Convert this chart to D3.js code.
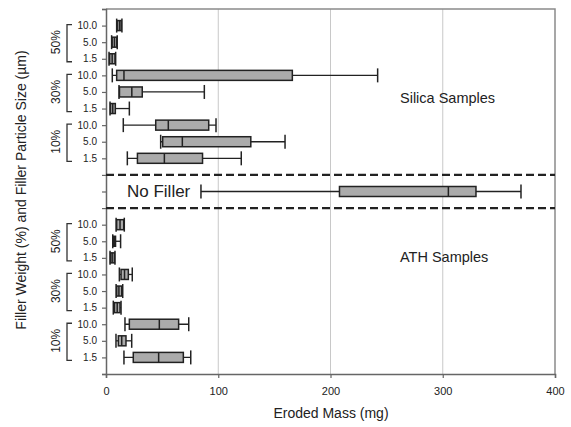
<!DOCTYPE html>
<html>
<head>
<meta charset="utf-8">
<script src="https://cdn.jsdelivr.net/npm/d3@7"></script>
<style>
  body { margin: 0; background: #fff; }
  text { font-family: Arial, "Liberation Sans", sans-serif; fill: #222; }
</style>
</head>
<body>
<svg id="chart" width="571" height="427"></svg>
<script>
// particle size labels, top to bottom inside each weight group
const sizes = ["10.0", "5.0", "1.5"];
const weights = ["50%", "30%", "10%"];
const xTicks = [0, 100, 200, 300, 400];

// [min, q1, median, q3, max] in mg, rows top to bottom
const silica = [
    [9.5, 10, 12, 13.5, 14.2],
    [5, 5.5, 7.5, 9.5, 10],
    [2.7, 3.2, 5.5, 8, 8.6],
    [5.6, 9.5, 16, 166, 242],
    [11.6, 12, 23, 32.3, 87.6],
    [3.6, 4, 6, 8.3, 20.8],
    [15.4, 44.3, 55.5, 91.5, 98],
    [48.7, 50.5, 68, 129, 159.5],
    [19, 28, 52, 86, 120.5]
];
const noFiller = [84.6, 208, 305, 329.6, 369.7];
const ath = [
    [9, 9.5, 12.5, 15.8, 16.3],
    [6, 6.5, 7.5, 8.5, 13],
    [3.6, 4, 5.5, 7.5, 8],
    [11.9, 13.4, 16.5, 19.9, 23.4],
    [9, 9.5, 11.5, 14, 14.9],
    [6.5, 7.5, 10, 12.5, 13.4],
    [16.9, 20.8, 47.5, 64.7, 73.7],
    [8.9, 11, 14, 17.8, 22.9],
    [16, 24.3, 46.9, 68.9, 75.5]
];

let svg = d3.select("#chart");

let x = d3.scaleLinear().domain([0, 400]).range([106, 555]);
// row slots: silica 1-9, dashed 10, no filler 11, dashed 12, ATH 13-21
let y = d3.scaleLinear().domain([0, 22]).range([9, 374]);

let rows = [];
silica.forEach((d, i) => rows.push({ pos: 1 + i, v: d }));
rows.push({ pos: 11, v: noFiller });
ath.forEach((d, i) => rows.push({ pos: 13 + i, v: d }));

// gridlines
svg.append("g")
    .selectAll("line")
    .data(xTicks.slice(1, -1))
    .join("line")
    .attr("x1", d => x(d)).attr("x2", d => x(d))
    .attr("y1", y(0)).attr("y2", y(22))
    .attr("stroke", "#c8c8c8").attr("stroke-width", 1);

// plot frame top/right
svg.append("path")
    .attr("d", `M${x(0)},${y(0)}H${x(400)}V${y(22)}`)
    .attr("fill", "none").attr("stroke", "#8a8a8a").attr("stroke-width", 1.5);

// x axis
let xAxis = svg.append("g")
    .attr("transform", `translate(0,${y(22)})`)
    .call(d3.axisBottom(x).tickValues(xTicks).tickSize(4).tickPadding(9));
xAxis.select(".domain").attr("stroke", "#666").attr("stroke-width", 1.5);
xAxis.selectAll(".tick line").attr("stroke", "#666").attr("stroke-width", 1.2);
xAxis.selectAll("text").style("font-size", "11px").attr("fill", "#222");

// y axis (ticks only)
let yAxis = svg.append("g")
    .attr("transform", `translate(${x(0)},0)`)
    .call(d3.axisLeft(y).tickValues(d3.range(0, 23)).tickSize(4).tickFormat(""));
yAxis.select(".domain").attr("stroke", "#666").attr("stroke-width", 1.5);
yAxis.selectAll(".tick line").attr("stroke", "#666").attr("stroke-width", 1.2);

// dashed separators
svg.append("g")
    .selectAll("line")
    .data([10, 12])
    .join("line")
    .attr("x1", x(0)).attr("x2", x(400))
    .attr("y1", d => y(d)).attr("y2", d => y(d))
    .attr("stroke", "#222").attr("stroke-width", 2.2)
    .attr("stroke-dasharray", "8,4");

// boxes
let bh = 10, ch = 14;
let g = svg.append("g").selectAll("g").data(rows).join("g");
g.append("line")
    .attr("x1", d => x(d.v[0])).attr("x2", d => x(d.v[4]))
    .attr("y1", d => y(d.pos)).attr("y2", d => y(d.pos))
    .attr("stroke", "#222").attr("stroke-width", 1.3);
g.append("line")
    .attr("x1", d => x(d.v[0])).attr("x2", d => x(d.v[0]))
    .attr("y1", d => y(d.pos) - ch / 2).attr("y2", d => y(d.pos) + ch / 2)
    .attr("stroke", "#222").attr("stroke-width", 1.5);
g.append("line")
    .attr("x1", d => x(d.v[4])).attr("x2", d => x(d.v[4]))
    .attr("y1", d => y(d.pos) - ch / 2).attr("y2", d => y(d.pos) + ch / 2)
    .attr("stroke", "#222").attr("stroke-width", 1.5);
g.append("rect")
    .attr("x", d => x(d.v[1]))
    .attr("width", d => x(d.v[3]) - x(d.v[1]))
    .attr("y", d => y(d.pos) - bh / 2)
    .attr("height", bh)
    .attr("fill", "#ababab").attr("stroke", "#222").attr("stroke-width", 1.5);
g.append("line")
    .attr("x1", d => x(d.v[2])).attr("x2", d => x(d.v[2]))
    .attr("y1", d => y(d.pos) - bh / 2).attr("y2", d => y(d.pos) + bh / 2)
    .attr("stroke", "#222").attr("stroke-width", 1.5);

// size labels and weight brackets
let groups = [1, 4, 7, 13, 16, 19];
groups.forEach((start, gi) => {
    sizes.forEach((s, k) => {
        svg.append("text")
            .attr("x", 97).attr("y", y(start + k))
            .attr("dy", "0.35em").attr("text-anchor", "end")
            .style("font-size", "10px").text(s);
    });
    let y0 = y(start) - 1, y1 = y(start + 2) + 3;
    svg.append("path")
        .attr("d", `M72,${y0}H67V${y1}H72`)
        .attr("fill", "none").attr("stroke", "#333").attr("stroke-width", 1.3);
    svg.append("text")
        .attr("transform", `translate(60,${y(start + 1)}) rotate(-90)`)
        .attr("text-anchor", "middle")
        .style("font-size", "12px").text(weights[gi % 3]);
});

// annotations
svg.append("text").attr("x", 400).attr("y", 98).attr("dy", "0.35em")
    .style("font-size", "14.5px").text("Silica Samples");
svg.append("text").attr("x", 400).attr("y", 257).attr("dy", "0.35em")
    .style("font-size", "14.5px").text("ATH Samples");
svg.append("text").attr("x", 127).attr("y", y(11)).attr("dy", "0.35em")
    .style("font-size", "17px").text("No Filler");

// axis titles
svg.append("text").attr("x", 331).attr("y", 418)
    .attr("text-anchor", "middle").style("font-size", "14px").text("Eroded Mass (mg)");
svg.append("text")
    .attr("transform", `translate(26,190) rotate(-90)`)
    .attr("text-anchor", "middle").style("font-size", "14px")
    .text("Filler Weight (%) and Filler Particle Size (µm)");
</script>
</body>
</html>
